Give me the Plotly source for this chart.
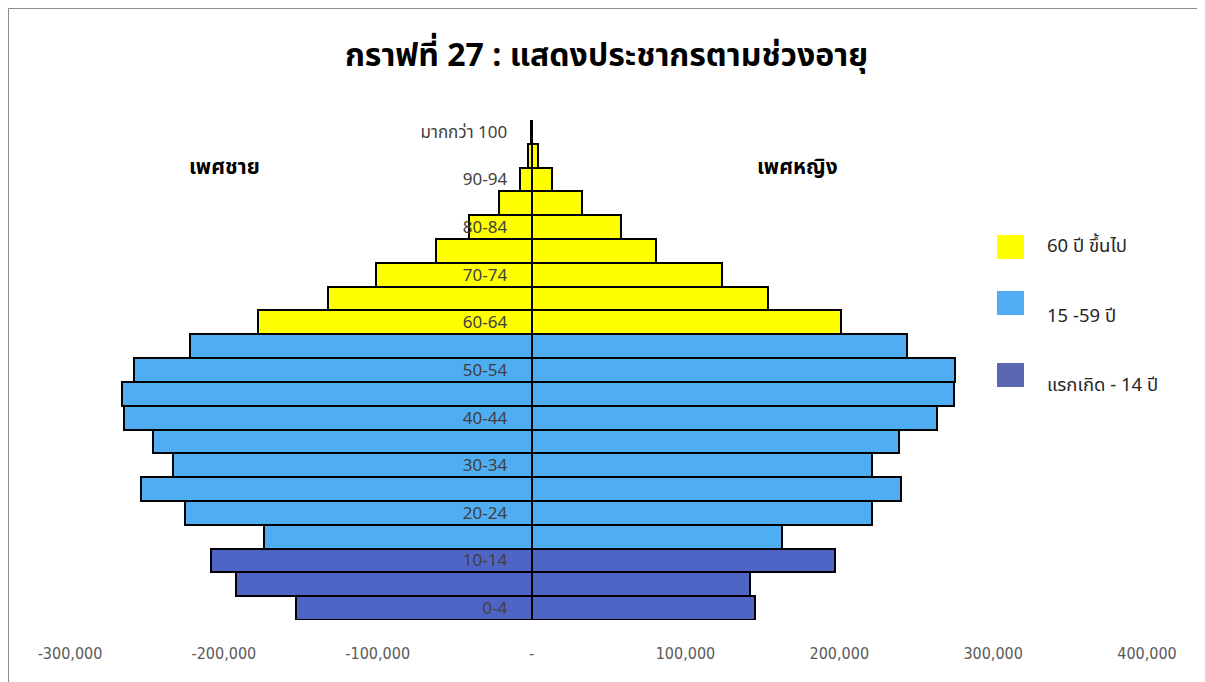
import plotly.graph_objects as go

# ---- data ----
age_groups = ["0-4", "5-9", "10-14", "15-19", "20-24", "25-29", "30-34", "35-39",
              "40-44", "45-49", "50-54", "55-59", "60-64", "65-69", "70-74", "75-79",
              "80-84", "85-89", "90-94", "95-99", "มากกว่า 100"]
male = [152800, 192200, 208300, 173600, 225000, 253800, 233000, 245800,
        265000, 266300, 258100, 222100, 177900, 132400, 101200, 62200,
        40500, 21000, 7500, 2600, 400]
female = [145000, 142000, 197300, 162500, 221300, 240400, 221300, 238900,
          263600, 274800, 275300, 243800, 201200, 153900, 124000, 80600,
          57900, 32500, 13300, 3900, 600]
group_names = ["60 ปี ขึ้นไป", "15 -59 ปี", "แรกเกิด - 14 ปี"]
group_of_age = [2, 2, 2, 1, 1, 1, 1, 1, 1, 1, 1, 1, 0, 0, 0, 0, 0, 0, 0, 0, 0]
x_ticks = [-300000, -200000, -100000, 0, 100000, 200000, 300000, 400000]
x_ticktext = ["-300,000", "-200,000", "-100,000", "-", "100,000", "200,000", "300,000", "400,000"]

bar_colors = ["#FFFF00", "#4FADF2", "#4F65C6"]
legend_colors = ["#FFFF00", "#4FADF2", "#5966B0"]

THAI = "Tahoma, 'Noto Sans Thai', 'Leelawadee UI', 'Noto Sans', sans-serif"
NARROW = "'DejaVu Sans Condensed', 'Liberation Sans Narrow', 'Arial Narrow', sans-serif"

colors = [bar_colors[g] for g in group_of_age]

fig = go.Figure()
fig.add_trace(go.Bar(y=age_groups, x=[-v for v in male], orientation="h",
                     marker=dict(color=colors, line=dict(color="black", width=2)),
                     name="เพศชาย", showlegend=False))
fig.add_trace(go.Bar(y=age_groups, x=female, orientation="h",
                     marker=dict(color=colors, line=dict(color="black", width=2)),
                     name="เพศหญิง", showlegend=False))

# page has an 8px body margin: work in screen pixels and convert
OFF = 8
W, H = 1205 - OFF, 682 - OFF
L, T = 70 - OFF, 120 - OFF
R = W - (1147 - OFF)
B = H - (620 - OFF)
pw, ph = W - L - R, H - T - B


def px(x):
    return (x - OFF - L) / pw


def py(y):
    return (H - B - (y - OFF)) / ph


fig.update_layout(
    width=W, height=H,
    margin=dict(l=L, r=R, t=T, b=B),
    barmode="relative", bargap=0,
    plot_bgcolor="white", paper_bgcolor="white",
    showlegend=False,
    title=dict(text="<b>กราฟที่ 27 : แสดงประชากรตามช่วงอายุ</b>", x=0.5, xanchor="center",
               y=1 - (55 - OFF) / H, yanchor="middle",
               font=dict(family=THAI, size=32, color="black")),
    xaxis=dict(range=[-300000, 400000], tickvals=x_ticks, ticktext=x_ticktext,
               showgrid=False, zeroline=False, showline=False, ticks="",
               ticklabelstandoff=22,
               tickfont=dict(family=NARROW, size=16, color="#595959")),
    yaxis=dict(type="category", categoryorder="array", categoryarray=age_groups,
               tickvals=age_groups[::2], ticktext=age_groups[::2],
               range=[-0.5, len(age_groups) - 0.5],
               anchor="free", position=3 / 7, side="left",
               showline=True, linecolor="black", linewidth=2,
               showgrid=False, zeroline=False, ticks="", ticklabelstandoff=20,
               tickfont=dict(family=THAI, size=17, color="#404040")),
)

# chart border
fig.add_shape(type="rect", xref="paper", yref="paper",
              x0=px(8.5), x1=px(1200), y0=py(700), y1=py(8.5),
              line=dict(color="#8c8c8c", width=1), fillcolor="rgba(0,0,0,0)", layer="below")

# side labels
fig.add_annotation(text="<b>เพศชาย</b>", xref="paper", yref="paper", x=px(224), y=py(167),
                   xanchor="center", yanchor="middle",
                   showarrow=False, font=dict(family=THAI, size=21, color="black"))
fig.add_annotation(text="<b>เพศหญิง</b>", xref="paper", yref="paper", x=px(797), y=py(167),
                   xanchor="center", yanchor="middle",
                   showarrow=False, font=dict(family=THAI, size=21, color="black"))

# custom legend
legend_y = [247, 303, 375]
text_y = [246, 316, 385]
for i, name in enumerate(group_names):
    fig.add_shape(type="rect", xref="paper", yref="paper",
                  x0=px(997), x1=px(1024), y0=py(legend_y[i] + 12), y1=py(legend_y[i] - 12),
                  line=dict(width=0), fillcolor=legend_colors[i])
    fig.add_annotation(text=name, xref="paper", yref="paper", x=px(1045), y=py(text_y[i]),
                       xanchor="left", yanchor="middle", showarrow=False,
                       font=dict(family=THAI, size=18.5, color="#262626"))

fig.write_html("out.html")
